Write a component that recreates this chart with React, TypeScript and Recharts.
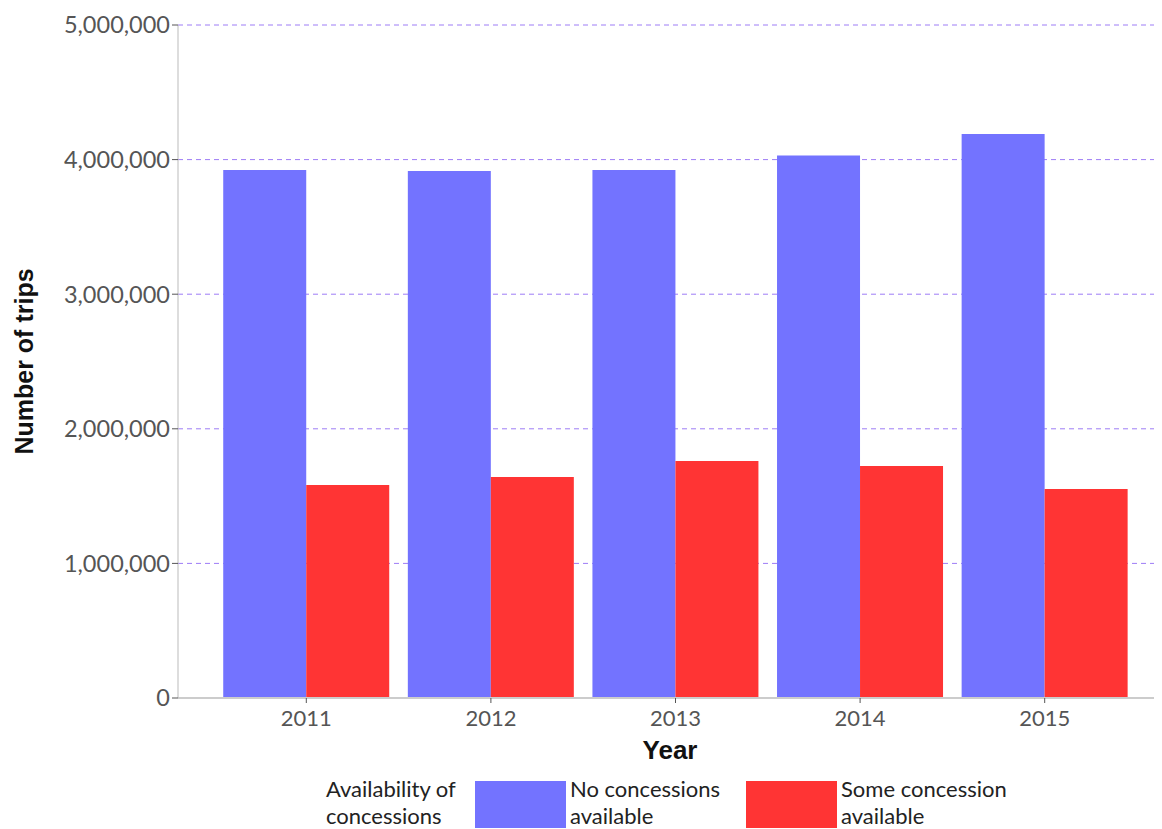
import React from 'react';
import { BarChart, Bar, XAxis, YAxis, CartesianGrid } from 'recharts';

const years = ['2011', '2012', '2013', '2014', '2015'];
const noConcession = [3923000, 3915000, 3923000, 4030000, 4190000];
const someConcession = [1582000, 1642000, 1761000, 1724000, 1553000];
const yTicks = [0, 1000000, 2000000, 3000000, 4000000, 5000000];

const BLUE = '#7373ff';
const RED = '#ff3434';
const FONT = 'Lato, "Open Sans", sans-serif';
const BOLD_FONT = '"Liberation Sans", Arial, sans-serif';

const data = years.map((year, i) => ({
    year,
    none: noConcession[i],
    some: someConcession[i],
}));

const fmt = (v: number) => v.toLocaleString('en-US');

const YLabel = (props: any) => {
    const vb = props.viewBox || {};
    const cy = vb.y + vb.height / 2;
    return (
        <text
            x={33}
            y={cy}
            transform={`rotate(-90 33 ${cy})`}
            textAnchor="middle"
            fontFamily={BOLD_FONT}
            fontWeight="bold"
            fontSize={25}
            fill="#111"
        >
            Number of trips
        </text>
    );
};

const LegendBox = () => (
    <div
        style={{
            position: 'absolute',
            top: 781,
            left: 0,
            width: 1162,
            height: 48,
            fontFamily: FONT,
            fontSize: 22,
            color: '#222',
            lineHeight: '26.5px',
        }}
    >
        <div style={{ position: 'absolute', left: 326, top: -5 }}>
            Availability of
            <br />
            concessions
        </div>
        <div style={{ position: 'absolute', left: 475, top: 0, width: 91, height: 47, background: BLUE }} />
        <div style={{ position: 'absolute', left: 570, top: -5 }}>
            No concessions
            <br />
            available
        </div>
        <div style={{ position: 'absolute', left: 746, top: 0, width: 91, height: 47, background: RED }} />
        <div style={{ position: 'absolute', left: 841, top: -5 }}>
            Some concession
            <br />
            available
        </div>
    </div>
);

export default function App() {
    return (
        <div style={{ position: 'relative', margin: '-8px -8px 0 -8px', width: 1162, height: 829, background: '#fff' }}>
            <BarChart
                width={1162}
                height={829}
                data={data}
                margin={{ top: 25, right: 0, bottom: 0, left: 0 }}
                barCategoryGap="5%"
                barGap={0}
            >
                <CartesianGrid
                    vertical={false}
                    stroke="#9d7cf6"
                    strokeDasharray="5 4"
                />
                <XAxis
                    dataKey="year"
                    height={131}
                    padding={{ left: 36, right: 25 }}
                    axisLine={{ stroke: '#cccccc', strokeWidth: 2 }}
                    tickLine={{ stroke: '#555' }}
                    tickSize={5}
                    tickMargin={7}
                    tick={{ fill: '#555', fontSize: 22, fontFamily: FONT }}
                    label={{
                        value: 'Year',
                        position: 'insideTop',
                        offset: 43,
                        fontSize: 26,
                        fontWeight: 'bold',
                        fill: '#111',
                        fontFamily: BOLD_FONT,
                    }}
                />
                <YAxis
                    width={178}
                    domain={[0, 5000000]}
                    ticks={yTicks}
                    tickFormatter={fmt}
                    axisLine={{ stroke: '#bbbbbb' }}
                    tickLine={{ stroke: '#555' }}
                    tickSize={6}
                    tick={{ fill: '#555', fontSize: 23.5, fontFamily: FONT }}
                    label={<YLabel />}
                />
                <Bar dataKey="none" fill={BLUE} isAnimationActive={false} />
                <Bar dataKey="some" fill={RED} isAnimationActive={false} />
            </BarChart>
            <LegendBox />
        </div>
    );
}
